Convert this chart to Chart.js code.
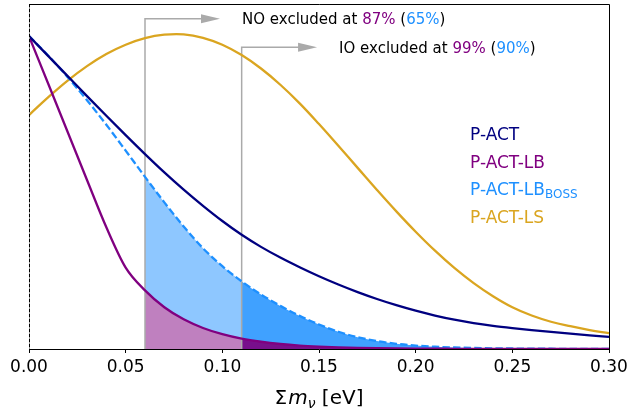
<!DOCTYPE html>
<html>
<head>
<meta charset="utf-8">
<script src="https://cdn.jsdelivr.net/npm/chart.js@4/dist/chart.umd.min.js"></script>
<style>
  html, body { margin: 0; padding: 0; background: #fff; }
  #chart { display: block; }
</style>
</head>
<body>
<canvas id="chart" width="632" height="413"></canvas>
<script>
// sum of neutrino masses [eV]
const masses = [0.00, 0.01, 0.02, 0.03, 0.04, 0.05, 0.06, 0.07, 0.08, 0.09,
                0.10, 0.11, 0.12, 0.13, 0.14, 0.15, 0.16, 0.17, 0.18, 0.19,
                0.20, 0.21, 0.22, 0.23, 0.24, 0.25, 0.26, 0.27, 0.28, 0.29, 0.30];

// normalised posteriors
const pAct = [0.907, 0.849, 0.791, 0.733, 0.676, 0.620, 0.565, 0.512, 0.462, 0.415,
              0.371, 0.331, 0.296, 0.265, 0.237, 0.211, 0.187, 0.165, 0.145, 0.127,
              0.111, 0.097, 0.085, 0.075, 0.067, 0.0605, 0.0548, 0.0495, 0.0445, 0.0397, 0.035];
const pActLb = [0.907, 0.768, 0.629, 0.490, 0.353, 0.236, 0.170, 0.121, 0.086, 0.061,
                0.043, 0.030, 0.021, 0.0145, 0.010, 0.007, 0.0048, 0.0033, 0.0023, 0.0016,
                0.0011, 0.0008, 0.0006, 0.0004, 0.0003, 0.0002, 0.0002, 0.0001, 0.0001, 0.0001, 0.0001];
const pActLbBoss = [0.907, 0.850, 0.788, 0.721, 0.650, 0.575, 0.499, 0.425, 0.355, 0.292,
                    0.240, 0.196, 0.158, 0.125, 0.096, 0.071, 0.050, 0.034, 0.023, 0.015,
                    0.0098, 0.0065, 0.0044, 0.003, 0.002, 0.0014, 0.001, 0.0007, 0.0005, 0.0003, 0.0002];
const pActLs = [0.678, 0.730, 0.778, 0.820, 0.855, 0.882, 0.901, 0.911, 0.912, 0.902,
                0.882, 0.852, 0.813, 0.766, 0.712, 0.652, 0.589, 0.525, 0.461, 0.399,
                0.340, 0.285, 0.235, 0.191, 0.153, 0.121, 0.097, 0.079, 0.066, 0.055, 0.046];

const xTicks = [0.00, 0.05, 0.10, 0.15, 0.20, 0.25, 0.30];

// mass limits for normal / inverted ordering
const noLimit = 0.06;
const ioLimit = 0.11;

const seriesNames = ["P-ACT", "P-ACT-LB", "P-ACT-LB", "P-ACT-LS"];
const seriesColors = ["#000080", "#800080", "#1e90ff", "#daa520"];

const FONT = "'DejaVu Sans', 'Liberation Sans', sans-serif";

function pts(values, lo, hi) {
  return masses.map((m, i) => ({ x: m, y: values[i] }))
    .filter(p => p.x >= lo - 1e-9 && p.x <= hi + 1e-9);
}

function fillSet(values, lo, hi, color, order) {
  return {
    data: pts(values, lo, hi),
    borderWidth: 0,
    pointRadius: 0,
    fill: "origin",
    backgroundColor: color,
    cubicInterpolationMode: "monotone",
    order: order
  };
}

function lineSet(values, color, dash, order, smooth) {
  return {
    data: pts(values, 0, 1),
    borderColor: color,
    borderWidth: 2.3,
    borderDash: dash,
    pointRadius: 0,
    fill: false,
    cubicInterpolationMode: smooth ? "default" : "monotone",
    tension: 0.4,
    order: order
  };
}

const datasets = [
  fillSet(pActLbBoss, noLimit, ioLimit, "rgba(30,144,255,0.5)", 20),
  fillSet(pActLbBoss, ioLimit, 0.30, "rgba(30,144,255,0.85)", 20),
  fillSet(pActLb, noLimit, ioLimit, "rgb(191,128,191)", 10),
  fillSet(pActLb, ioLimit, 0.30, "rgba(128,0,128,0.9)", 10),
  lineSet(pActLs, seriesColors[3], [], 4, true),
  lineSet(pActLbBoss, seriesColors[2], [7.4, 3.2], 3),
  lineSet(pActLb, seriesColors[1], [], 2),
  lineSet(pAct, seriesColors[0], [], 1)
];

// gray cut lines with arrows and their captions
const cuts = [
  { at: noLimit, top: 0.957, tip: 0.0988, label: "NO excluded at ", a: "87%", b: "65%" },
  { at: ioLimit, top: 0.875, tip: 0.149, label: "IO excluded at ", a: "99%", b: "90%" }
];

function drawParts(ctx, parts, x, y) {
  parts.forEach(p => {
    ctx.font = p.font;
    ctx.fillStyle = p.color;
    ctx.fillText(p.text, x, y + (p.dy || 0));
    x += ctx.measureText(p.text).width + (p.gap || 0);
  });
  return x;
}

function partsWidth(ctx, parts) {
  let w = 0;
  parts.forEach(p => { ctx.font = p.font; w += ctx.measureText(p.text).width + (p.gap || 0); });
  return w;
}

const overlay = {
  id: "overlay",
  beforeDatasetsDraw(chart) {
    const ctx = chart.ctx;
    const xs = chart.scales.x, ys = chart.scales.y;
    ctx.save();
    ctx.strokeStyle = "#aaaaaa";
    ctx.fillStyle = "#aaaaaa";
    ctx.lineWidth = 1.5;
    cuts.forEach(c => {
      const x0 = xs.getPixelForValue(c.at);
      const yTop = ys.getPixelForValue(c.top);
      const xTip = xs.getPixelForValue(c.tip);
      ctx.beginPath();
      ctx.moveTo(x0, ys.getPixelForValue(0));
      ctx.lineTo(x0, yTop);
      ctx.lineTo(xTip - 16, yTop);
      ctx.stroke();
      ctx.beginPath();
      ctx.moveTo(xTip, yTop);
      ctx.lineTo(xTip - 19, yTop - 4.5);
      ctx.lineTo(xTip - 19, yTop + 4.5);
      ctx.closePath();
      ctx.fill();
    });
    ctx.restore();
  },
  afterDraw(chart) {
    const ctx = chart.ctx;
    const a = chart.chartArea;
    const xs = chart.scales.x, ys = chart.scales.y;
    ctx.save();

    // frame
    ctx.lineWidth = 1;
    ctx.strokeStyle = "#000";
    ctx.beginPath();
    ctx.moveTo(a.left, a.top + 0.5);
    ctx.lineTo(a.right + 0.5, a.top + 0.5);
    ctx.lineTo(a.right + 0.5, a.bottom);
    ctx.stroke();
    ctx.strokeStyle = "#999";
    ctx.beginPath();
    ctx.moveTo(a.left + 0.5, a.top);
    ctx.lineTo(a.left + 0.5, a.bottom);
    ctx.stroke();
    ctx.strokeStyle = "#000";
    ctx.setLineDash([3, 2]);
    ctx.beginPath();
    ctx.moveTo(a.left + 0.5, a.top);
    ctx.lineTo(a.left + 0.5, a.bottom);
    ctx.stroke();
    ctx.setLineDash([]);

    // captions next to the arrows
    ctx.textBaseline = "alphabetic";
    const f15 = "15px " + FONT;
    cuts.forEach(c => {
      const yTop = ys.getPixelForValue(c.top);
      const x = xs.getPixelForValue(c.tip) + 22;
      drawParts(ctx, [
        { text: c.label, font: f15, color: "#000" },
        { text: c.a, font: f15, color: seriesColors[1] },
        { text: " (", font: f15, color: "#000" },
        { text: c.b, font: f15, color: seriesColors[2] },
        { text: ")", font: f15, color: "#000" }
      ], x, yTop + 5.5);
    });

    // legend as coloured text
    const f17 = "17px " + FONT;
    const lx = a.right - 139;
    seriesNames.forEach((name, i) => {
      const y = a.top + 136 + i * 27.6;
      const parts = [{ text: name, font: f17, color: seriesColors[i] }];
      if (i === 2) parts.push({ text: "BOSS", font: "12px " + FONT, color: seriesColors[i], dy: 3 });
      drawParts(ctx, parts, lx, y);
    });

    // x axis title: Σm_ν [eV]
    const f20 = "20px " + FONT;
    const title = [
      { text: "Σ", font: f20, color: "#000", gap: 1 },
      { text: "m", font: "italic 20px " + FONT, color: "#000" },
      { text: "ν", font: "italic 14px " + FONT, color: "#000", dy: 4 },
      { text: " [eV]", font: f20, color: "#000" }
    ];
    const w = partsWidth(ctx, title);
    drawParts(ctx, title, (a.left + a.right) / 2 - w / 2, a.bottom + 55);

    ctx.restore();
  }
};

new Chart(document.getElementById("chart"), {
  type: "line",
  data: { datasets: datasets },
  options: {
    responsive: false,
    animation: false,
    devicePixelRatio: 1,
    layout: { padding: { left: 29, right: 23, top: 4, bottom: 0 } },
    plugins: {
      legend: { display: false },
      tooltip: { enabled: false },
      filler: { drawTime: "beforeDatasetsDraw" }
    },
    scales: {
      x: {
        type: "linear",
        min: 0,
        max: 0.30,
        afterBuildTicks: scale => { scale.ticks = xTicks.map(v => ({ value: v })); },
        afterFit: scale => { scale.height = 64; },
        ticks: {
          color: "#000",
          font: { family: FONT, size: 17 },
          padding: 4,
          maxRotation: 0,
          callback: v => Number(v).toFixed(2)
        },
        grid: { drawOnChartArea: false, drawTicks: true, tickLength: 4, color: "#000" },
        border: { display: true, color: "#000", width: 1 }
      },
      y: {
        display: false,
        min: 0,
        max: 1
      }
    }
  },
  plugins: [overlay]
});
</script>
</body>
</html>
